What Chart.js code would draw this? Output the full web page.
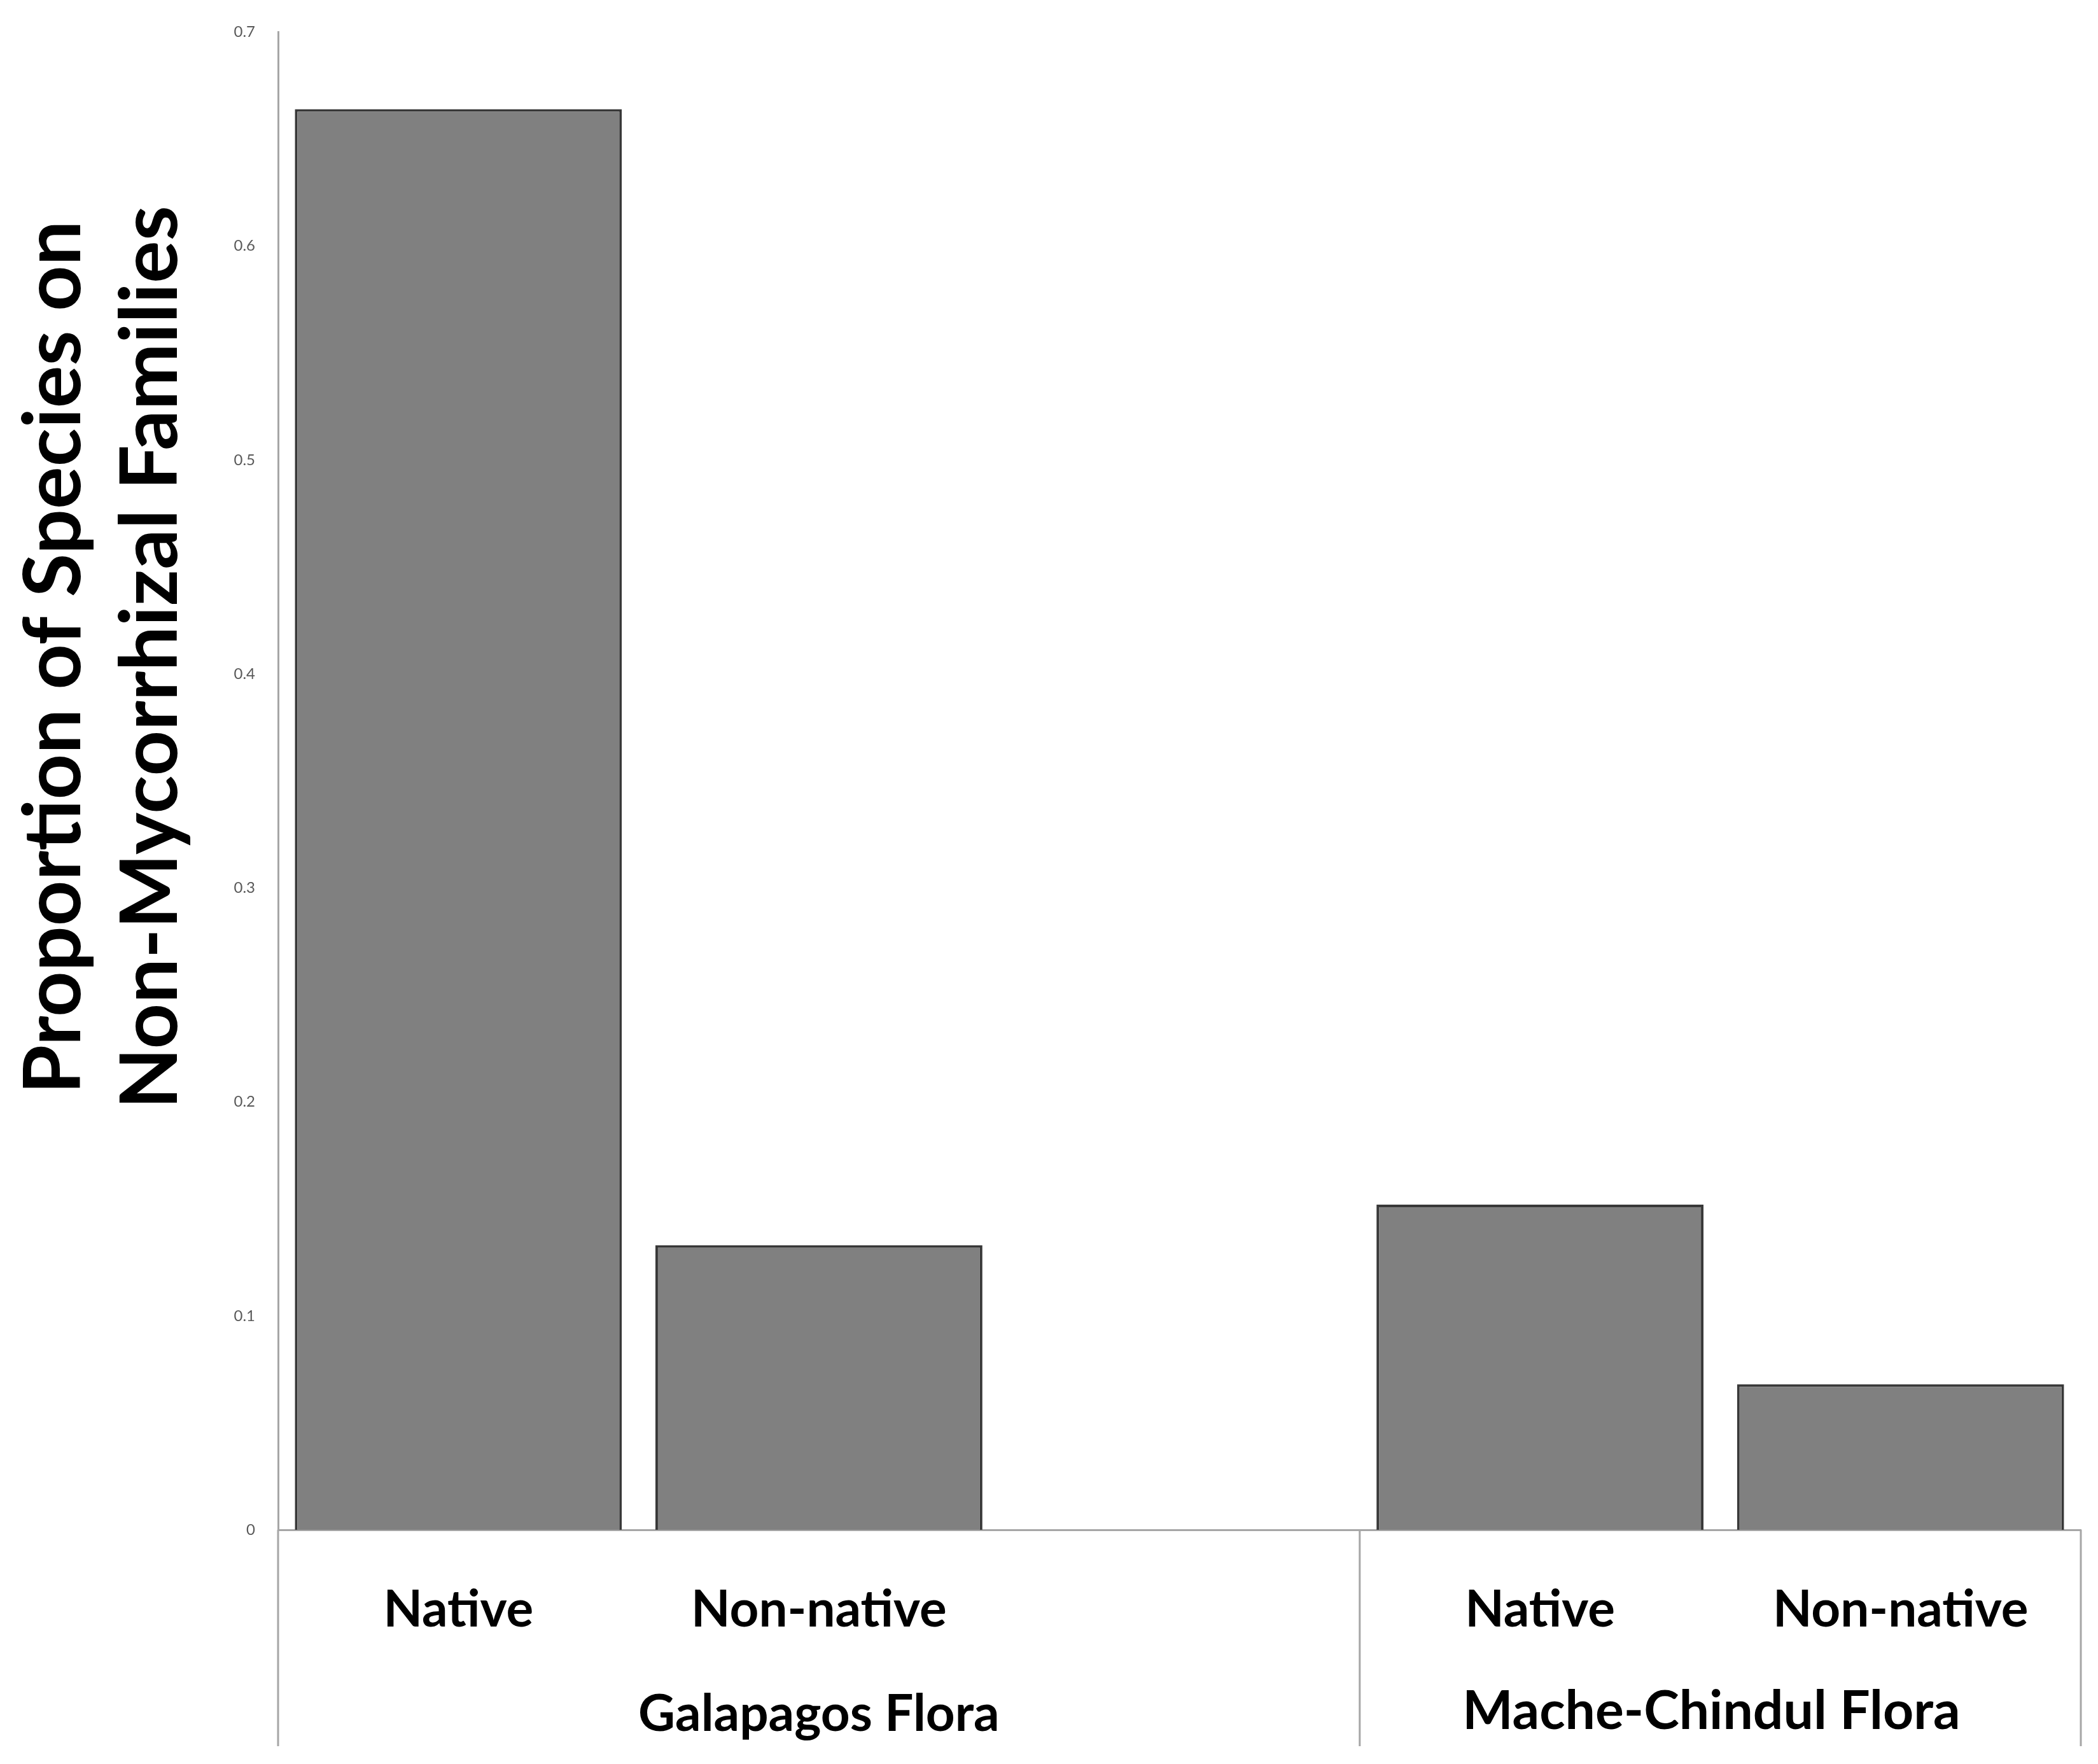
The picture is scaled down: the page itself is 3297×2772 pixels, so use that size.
<!DOCTYPE html>
<html>
<head>
<meta charset="utf-8">
<script src="https://cdn.jsdelivr.net/npm/chart.js@4.4.0/dist/chart.umd.min.js"></script>
<style>
  html, body { margin: 0; padding: 0; background: #ffffff; }
  #wrap { width: 3297px; height: 2772px; position: relative; }
</style>
</head>
<body>
<div id="wrap"><canvas id="chart"></canvas></div>
<script>
// categories (the blank one keeps the gap between the two floras)
var categories = ['Native', 'Non-native', '', 'Native', 'Non-native'];
// proportion of species on non-mycorrhizal families
var proportions = [0.664, 0.133, null, 0.152, 0.068];
// group labels and how many categories each one covers
var groupNames = ['Galapagos Flora', 'Mache-Chindul Flora'];
var groupSizes = [3, 2];
var yTickLabels = ['0', '0.1', '0.2', '0.3', '0.4', '0.5', '0.6', '0.7'];
var yTitleLines = ['Proportion of Species on', 'Non-Mycorrhizal Families'];

var axisGrey = '#a6a6a6';
var fontFamily = 'Lato, "Open Sans", sans-serif';

// draws the second category row, the group separators and the y title
var groupAxisPlugin = {
    id: 'groupAxis',
    afterDraw: function (chart) {
        var ctx = chart.ctx;
        var xs = chart.scales.x;
        var area = chart.chartArea;
        var half = (xs.getPixelForValue(1) - xs.getPixelForValue(0)) / 2;

        ctx.save();
        ctx.strokeStyle = axisGrey;
        ctx.lineWidth = 3;
        var start = 0;
        var edges = [xs.getPixelForValue(0) - half];
        for (var g = 0; g < groupSizes.length; g++) {
            var end = start + groupSizes[g] - 1;
            edges.push(xs.getPixelForValue(end) + half);
            start = end + 1;
        }
        edges.forEach(function (x) {
            ctx.beginPath();
            ctx.moveTo(x, area.bottom);
            ctx.lineTo(x, area.bottom + 340);
            ctx.stroke();
        });

        ctx.fillStyle = '#000000';
        ctx.textAlign = 'center';
        ctx.textBaseline = 'middle';
        ctx.font = 'bold 80px ' + fontFamily;
        ctx.fillText(groupNames[0], (edges[0] + edges[1]) / 2, area.bottom + 290);
        ctx.font = 'bold 84px ' + fontFamily;
        ctx.fillText(groupNames[1], (edges[1] + edges[2]) / 2 - 14, area.bottom + 286);

        // y axis title, two lines, rotated
        ctx.font = 'bold 125px ' + fontFamily;
        ctx.translate(0, 1033);
        ctx.rotate(-Math.PI / 2);
        ctx.fillText(yTitleLines[0], 0, 86);
        ctx.fillText(yTitleLines[1], 0, 238);
        ctx.restore();
    }
};

new Chart(document.getElementById('chart'), {
    type: 'bar',
    data: {
        labels: categories,
        datasets: [{
            data: proportions,
            backgroundColor: '#808080',
            borderColor: '#383838',
            borderWidth: 4,
            barPercentage: 0.907,
            categoryPercentage: 1.0
        }]
    },
    options: {
        responsive: true,
        maintainAspectRatio: false,
        animation: false,
        devicePixelRatio: 1,
        layout: { padding: { top: 46, right: 27, bottom: 0, left: 0 } },
        plugins: {
            legend: { display: false },
            tooltip: { enabled: false }
        },
        scales: {
            x: {
                grid: { display: false, drawTicks: false },
                border: { display: true, color: axisGrey, width: 3 },
                ticks: {
                    autoSkip: false,
                    maxRotation: 0,
                    padding: 78,
                    color: '#000000',
                    font: { family: fontFamily, size: 80, weight: 'bold' }
                },
                afterFit: function (scale) { scale.height = 368; }
            },
            y: {
                min: 0,
                max: 0.7,
                grid: { display: false, drawTicks: false },
                border: { display: true, color: axisGrey, width: 3 },
                ticks: {
                    stepSize: 0.1,
                    padding: 36,
                    color: '#595959',
                    font: { family: fontFamily, size: 24 },
                    callback: function (value, index) { return yTickLabels[index]; }
                },
                afterFit: function (scale) { scale.width = 437; }
            }
        }
    },
    plugins: [groupAxisPlugin]
});
</script>
</body>
</html>
